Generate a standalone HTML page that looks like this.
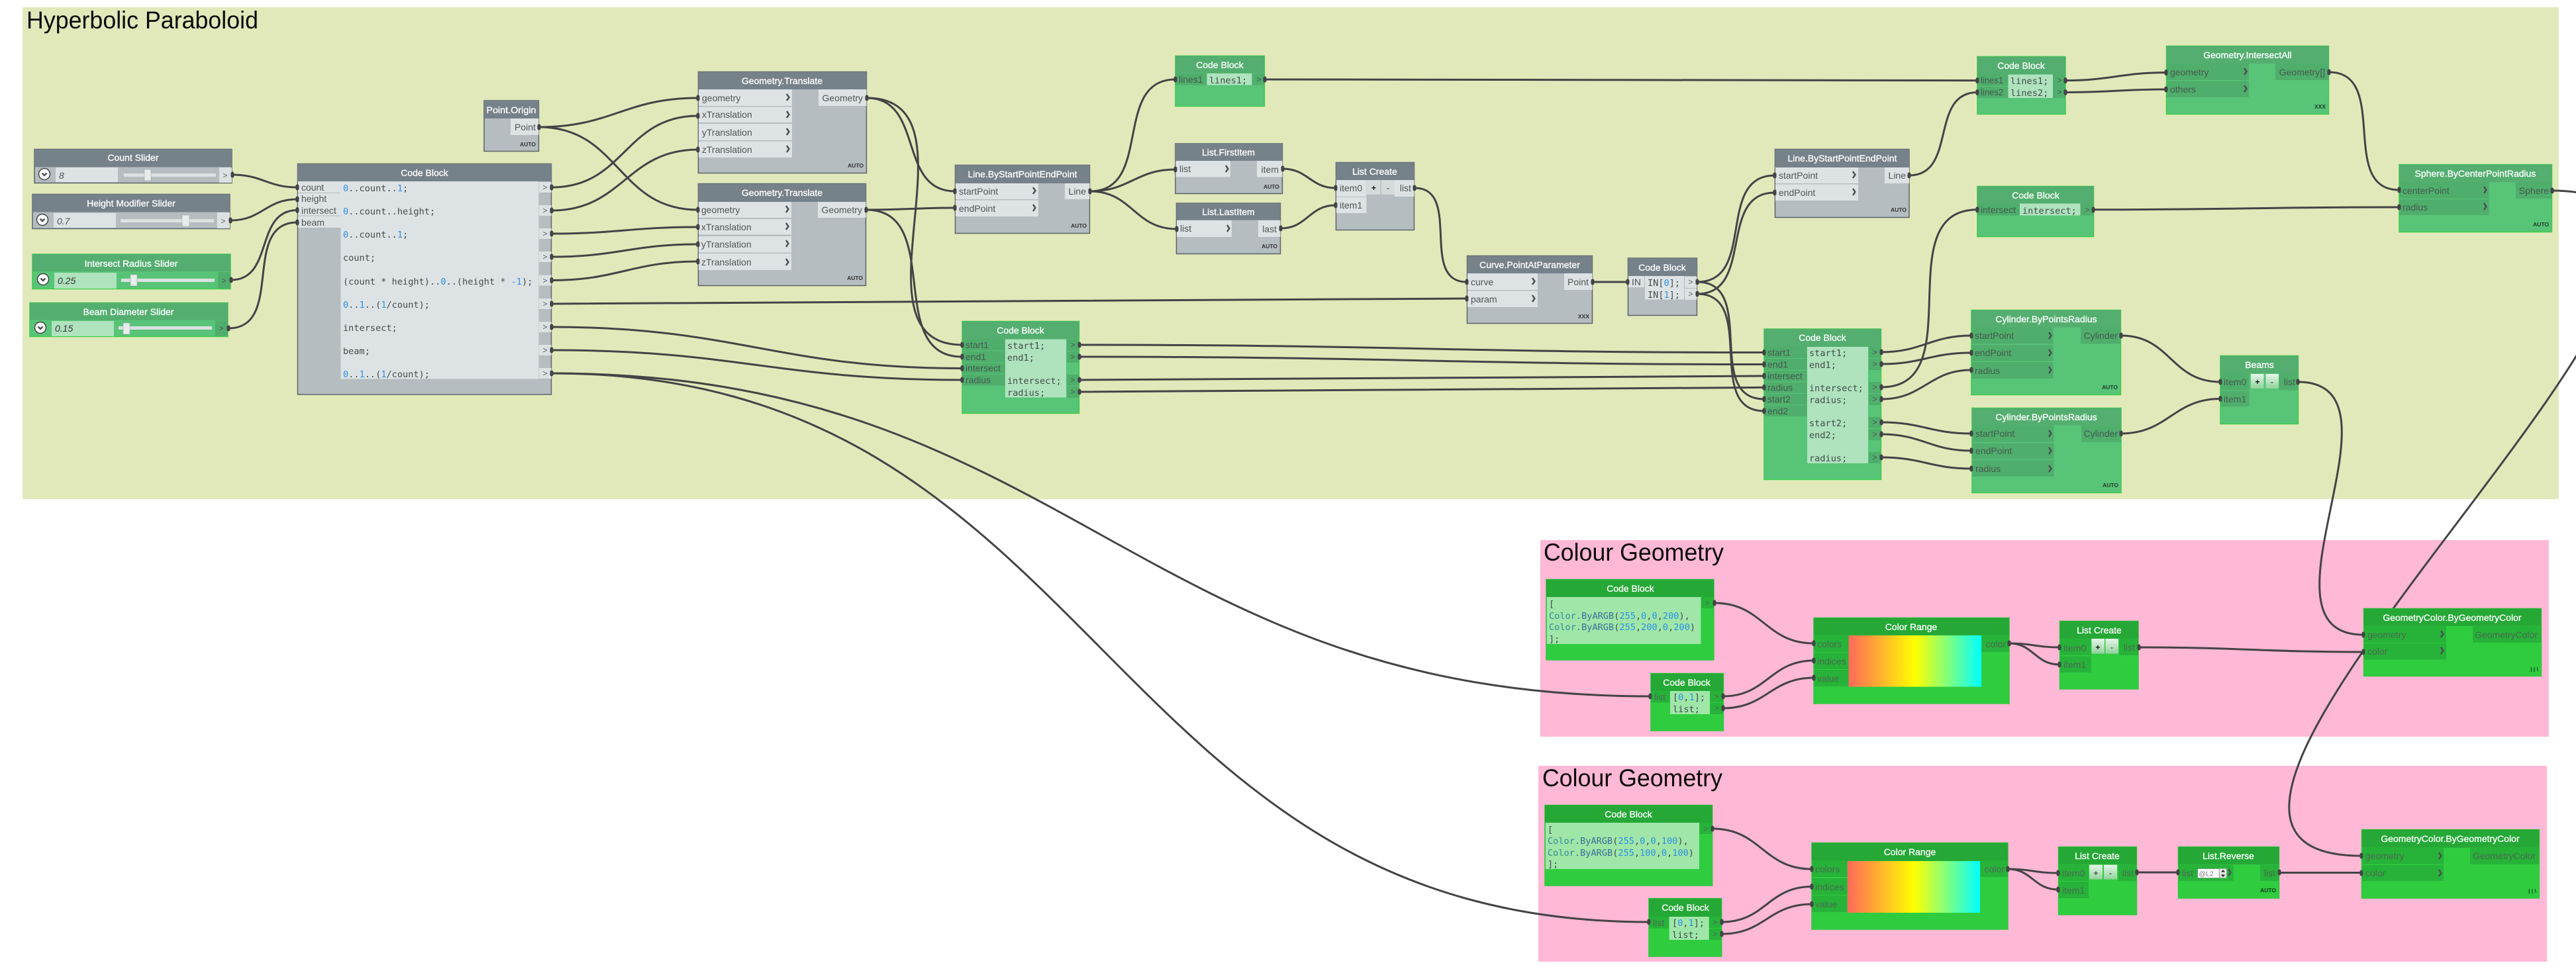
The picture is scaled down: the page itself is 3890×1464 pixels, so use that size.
<!DOCTYPE html>
<html><head><meta charset="utf-8"><style>
html,body{margin:0;padding:0;background:#fff;width:3890px;height:1464px;overflow:hidden}
svg{display:block;font-family:"Liberation Sans",sans-serif}
.t{font-size:37px;fill:#0a0a0a}
.cn{fill:none;stroke:#434446;stroke-width:3}
.pt{fill:none;stroke:#434446;stroke-width:5;stroke-linecap:round}
.c{fill:none;stroke:#4a4f52;stroke-width:2.4}
.hd{font-size:14px;fill:#fff;stroke:#fff;stroke-width:.3;text-anchor:middle}
.l{font-size:14px;fill:#4f5558}
.r{font-size:14px;fill:#4f5558;text-anchor:end}
.m{font-family:"DejaVu Sans Mono",monospace;font-size:13.6px;fill:#444c4c;transform:translateY(1px)}
.o{fill:#2f8fe8}.k{fill:#36899a}.y{fill:#3d6d9a}
.a{font-size:8.5px;font-weight:bold;fill:#333;text-anchor:end}
.s{font-size:12px;fill:#5a6064;text-anchor:middle}
.g .b{fill:#b5bdc0;stroke:#5c6368;stroke-width:1.5}.g .h{fill:#76828a}.g .q{fill:#dce1e2}.g .p{fill:#dde3e4}
.n .b{fill:#58c478;stroke:#3ecb4a;stroke-width:1.5}.n .h{fill:#53ae6f}.n .q{fill:#4fae6c}.n .p{fill:#aee3bd}
.v .b{fill:#2fcc40;stroke:#2fc93f;stroke-width:1.5}.v .h{fill:#25a836}.v .q{fill:#27b239}.v .p{fill:#9fe6a8}
.n .l,.n .r,.n .s{fill:#45594e}.v .l,.v .r,.v .s{fill:#4a6a50}
.n .a{fill:#1f3a2a}.v .a{fill:#123a18}
</style></head><body>
<svg width="3890" height="1464" viewBox="0 0 3890 1464" xmlns="http://www.w3.org/2000/svg">
<defs><linearGradient id="gr" x1="0" x2="1" y1="0" y2="0"><stop offset="0" stop-color="#ff6a5a"/><stop offset=".5" stop-color="#ffff00"/><stop offset="1" stop-color="#00ffff"/></linearGradient>
<linearGradient id="bt" x1="0" x2="0" y1="0" y2="1"><stop offset="0" stop-color="#e8f6ea"/><stop offset="1" stop-color="#8fd39a"/></linearGradient></defs>

<rect x="34" y="11" width="3830" height="743" fill="#e1e9ba"/>
<rect x="2326" y="816" width="1523" height="297" fill="#ffb8d5"/>
<rect x="2323" y="1157" width="1523" height="296" fill="#ffb8d5"/>
<text class="t" x="40" y="43" textLength="350" lengthAdjust="spacingAndGlyphs">Hyperbolic Paraboloid</text>
<text class="t" x="2331" y="847" textLength="272" lengthAdjust="spacingAndGlyphs">Colour Geometry</text>
<text class="t" x="2329" y="1188" textLength="272" lengthAdjust="spacingAndGlyphs">Colour Geometry</text>

<g class="cn">
<path d="M351 264C396 264 404 283 449 283"/><path d="M348 333C396 333 401 301 449 301"/><path d="M349 423C414 423 384 317.5 449 317.5"/><path d="M345 496C431 496 363 336 449 336"/>
<path d="M814 192C924 192 944 148 1054 148"/><path d="M814 192C936 192 932 317 1054 317"/>
<path d="M833 283C944 283 943 175 1054 175"/><path d="M833 318C941 318 946 226 1054 226"/><path d="M833 353C933 353 954 343 1054 343"/><path d="M833 388C933 388 954 369 1054 369"/><path d="M833 423.5C933 423.5 954 395 1054 395"/>
<path d="M833 459C1455 459 1593 451 2215 451"/><path d="M833 494C1113 494 1173 556.5 1453 556.5"/><path d="M833 529C1113 529 1173 574 1453 574"/>
<path d="M833 564C1611 564 1714 1052 2492 1052"/><path d="M833 564C1667 564 1656 1393 2490 1393"/>
<path d="M1309 148C1396 148 1355 289 1442 289"/><path d="M1309 148C1489 148 1273 521 1453 521"/><path d="M1308 317C1368 317 1382 314 1442 314"/><path d="M1308 317C1427 317 1334 539 1453 539"/>
<path d="M1646 289C1742 289 1679 120 1775 120"/><path d="M1646 289C1706 289 1715 256 1775 256"/><path d="M1646 289C1710 289 1713 346 1777 346"/>
<path d="M1910 120C2394 120 2502 121.6 2986 121.6"/><path d="M1937 255C1975 255 1979 284 2017 284"/><path d="M1934 345C1974 345 1977 310 2017 310"/>
<path d="M2136 284C2209 284 2142 426 2215 426"/><path d="M2405 426H2458"/>
<path d="M2563 426C2653 426 2590 265 2680 265"/><path d="M2563 444C2650 444 2593 291 2680 291"/><path d="M2563 426C2655 426 2572 603 2664 603"/><path d="M2563 444C2655 444 2572 621 2664 621"/>
<path d="M1630 521C2095 521 2199 532.5 2664 532.5"/><path d="M1630 539C2095 539 2199 550.5 2664 550.5"/><path d="M1630 574C2095 574 2199 568 2664 568"/><path d="M1630 592C2095 592 2199 585.4 2664 585.4"/>
<path d="M2883 265C2956 265 2913 139.5 2986 139.5"/><path d="M3119 121.6C3187 121.6 3203 109.6 3271 109.6"/><path d="M3119 139.5C3187 139.5 3203 135 3271 135"/>
<path d="M3517 109C3610 109 3530 287 3623 287"/><path d="M2841 585C2978 585 2849 316.8 2986 316.8"/><path d="M3161 316.8C3369 316.8 3415 313 3623 313"/>
<path d="M2841 532C2903 532 2915 507 2977 507"/><path d="M2841 550C2903 550 2915 533 2977 533"/><path d="M2841 603C2905 603 2913 559 2977 559"/><path d="M2841 638C2903 638 2915 655 2977 655"/><path d="M2841 656C2903 656 2915 681 2977 681"/><path d="M2841 691C2903 691 2915 708 2977 708"/>
<path d="M3203 507C3278 507 3278 577 3353 577"/><path d="M3203 655C3274 655 3282 602.5 3353 602.5"/>
<path d="M3470 577C3648 577 3391 959 3569 959"/><path d="M3854 288C4324 288 3096 1293 3566 1293"/>
<path d="M3230 978C3382 978 3417 985 3569 985"/><path d="M3227 1318H3289"/><path d="M3442 1318.5H3566"/>
<path d="M2589 911C2662 911 2666 972 2739 972"/><path d="M2602 1052C2668 1052 2673 998 2739 998"/><path d="M2602 1070C2667 1070 2674 1024 2739 1024"/>
<path d="M3034 972C3068 972 3076 978 3110 978"/><path d="M3034 972C3071 972 3073 1004 3110 1004"/>
<path d="M2586 1252C2659 1252 2663 1313 2736 1313"/><path d="M2600 1393C2666 1393 2670 1339.5 2736 1339.5"/><path d="M2600 1411C2665 1411 2671 1366 2736 1366"/>
<path d="M3032 1313C3066 1313 3074 1319 3108 1319"/><path d="M3032 1313C3069 1313 3071 1344 3108 1344"/>
</g>

<!-- sliders -->
<g class="g"><rect class="b" x="52" y="225.5" width="298" height="51"/><rect class="h" x="52" y="225.5" width="298" height="27"/><text class="hd" x="201" y="243">Count Slider</text>
<rect class="p" x="84" y="253" width="94" height="22"/><rect x="187" y="262" width="139" height="5" fill="#dce1e2"/><rect x="218" y="256" width="10" height="17" fill="#e8ecec" stroke="#999" stroke-width=".5"/><rect class="q" x="331" y="253" width="19" height="23"/>
<circle cx="67" cy="263" r="8.5" fill="#fff" stroke="#444" stroke-width="1.5"/><path class="c" d="M63.500 261.500l3.500 3.500 3.500-3.500"/><text class="l" x="89" y="270" font-style="italic">8</text><text class="s" x="340" y="269">&gt;</text></g>
<g class="g"><rect class="b" x="49" y="293.500" width="298" height="52"/><rect class="h" x="49" y="293.500" width="298" height="27"/><text class="hd" x="198" y="312">Height Modifier Slider</text>
<rect class="p" x="81" y="322" width="94" height="22"/><rect x="182" y="331" width="141" height="5" fill="#dce1e2"/><rect x="275" y="325" width="11" height="17" fill="#e8ecec" stroke="#999" stroke-width=".5"/><rect class="q" x="328" y="321" width="19" height="24"/>
<circle cx="64" cy="332" r="8.500" fill="#fff" stroke="#444" stroke-width="1.5"/><path class="c" d="M60.500 330.500l3.500 3.500 3.500-3.500"/><text class="l" x="86" y="339" font-style="italic">0.7</text><text class="s" x="337" y="338">&gt;</text></g>
<g class="n"><rect class="b" x="49" y="384" width="299" height="52.500"/><rect class="h" x="49" y="384" width="299" height="26"/><text class="hd" x="198" y="403">Intersect Radius Slider</text>
<rect class="p" x="82" y="412" width="94" height="24"/><rect x="183" y="421" width="141" height="5" fill="#dce1e2"/><rect x="197" y="415" width="10" height="17" fill="#e8ecec" stroke="#999" stroke-width=".5"/><rect class="q" x="329" y="411" width="19" height="25"/>
<circle cx="65" cy="422" r="8.500" fill="#fff" stroke="#444" stroke-width="1.500"/><path class="c" d="M61.500 420.500l3.500 3.500 3.500-3.500"/><text class="l" x="87" y="429" font-style="italic" style="fill:#333">0.25</text><text class="s" x="338" y="428">&gt;</text></g>
<g class="n"><rect class="b" x="45" y="457.500" width="299" height="51"/><rect class="h" x="45" y="457.500" width="299" height="26"/><text class="hd" x="194" y="476">Beam Diameter Slider</text>
<rect class="p" x="78" y="485" width="94" height="23"/><rect x="179" y="493" width="141" height="5" fill="#dce1e2"/><rect x="186" y="488" width="10" height="17" fill="#e8ecec" stroke="#999" stroke-width=".5"/><rect class="q" x="325" y="484" width="19" height="24"/>
<circle cx="61" cy="495" r="8.500" fill="#fff" stroke="#444" stroke-width="1.500"/><path class="c" d="M57.500 493.500l3.500 3.500 3.500-3.500"/><text class="l" x="83" y="501" font-style="italic" style="fill:#333">0.15</text><text class="s" x="334" y="500">&gt;</text></g>

<!-- main code block -->
<g class="g"><rect class="b" x="449.500" y="247.500" width="383" height="348.500"/><rect class="h" x="449.500" y="247.500" width="383" height="26.500"/><text class="hd" x="641" y="266">Code Block</text>
<rect class="p" x="450" y="274" width="64.500" height="70"/><path d="M450 291.500h64M450 326h64" stroke="#b5bdc0" fill="none"/>
<rect class="p" x="514.500" y="274" width="299" height="298.500"/>
<text class="l" x="455" y="288">count</text><text class="l" x="455" y="305">height</text><text class="l" x="455" y="323">intersect</text><text class="l" x="455" y="341">beam</text>
<rect class="q" x="814" y="275" width="18.500" height="16"/><rect class="q" x="814" y="310" width="18.500" height="16"/><rect class="q" x="814" y="345" width="18.500" height="16"/><rect class="q" x="814" y="380" width="18.500" height="16"/><rect class="q" x="814" y="415.500" width="18.500" height="16"/><rect class="q" x="814" y="451" width="18.500" height="16"/><rect class="q" x="814" y="486" width="18.500" height="16"/><rect class="q" x="814" y="521" width="18.500" height="16"/><rect class="q" x="814" y="556" width="18.500" height="16"/>
<text class="s" x="823" y="287">&gt;</text><text class="s" x="823" y="322">&gt;</text><text class="s" x="823" y="357">&gt;</text><text class="s" x="823" y="392">&gt;</text><text class="s" x="823" y="428">&gt;</text><text class="s" x="823" y="463">&gt;</text><text class="s" x="823" y="498">&gt;</text><text class="s" x="823" y="533">&gt;</text><text class="s" x="823" y="568">&gt;</text>
<text class="m" x="518" y="288"><tspan class="o">0</tspan>..count..<tspan class="o">1</tspan>;</text>
<text class="m" x="518" y="323"><tspan class="o">0</tspan>..count..height;</text>
<text class="m" x="518" y="358"><tspan class="o">0</tspan>..count..<tspan class="o">1</tspan>;</text>
<text class="m" x="518" y="393">count;</text>
<text class="m" x="518" y="429">(count * height)..<tspan class="o">0</tspan>..(height * <tspan class="o">-1</tspan>);</text>
<text class="m" x="518" y="464"><tspan class="o">0</tspan>..<tspan class="o">1</tspan>..(<tspan class="o">1</tspan>/count);</text>
<text class="m" x="518" y="499">intersect;</text>
<text class="m" x="518" y="534">beam;</text>
<text class="m" x="518" y="569"><tspan class="o">0</tspan>..<tspan class="o">1</tspan>..(<tspan class="o">1</tspan>/count);</text></g>

<!-- Point.Origin -->
<g class="g"><rect class="b" x="731" y="152" width="82.500" height="76.500"/><rect class="h" x="731" y="152" width="82.500" height="27"/><text class="hd" x="772" y="171" textLength="75" lengthAdjust="spacingAndGlyphs">Point.Origin</text>
<rect class="p" x="771" y="179" width="42.500" height="25"/><text class="r" x="809" y="197">Point</text><text class="a" x="809" y="221">AUTO</text></g>

<!-- Geometry.Translate 1 -->
<g class="g"><rect class="b" x="1054.500" y="108.500" width="254" height="153"/><rect class="h" x="1054.500" y="108.500" width="254" height="26.500"/><text class="hd" x="1181" y="127">Geometry.Translate</text>
<rect class="p" x="1055" y="135" width="141" height="25"/><rect class="p" x="1055" y="161.500" width="141" height="23.500"/><rect class="p" x="1055" y="187" width="141" height="25"/><rect class="p" x="1055" y="213.500" width="141" height="24.500"/><rect class="p" x="1236" y="135" width="72.500" height="25"/>
<text class="l" x="1060" y="153">geometry</text><text class="l" x="1060" y="178">xTranslation</text><text class="l" x="1060" y="205">yTranslation</text><text class="l" x="1060" y="231">zTranslation</text><text class="r" x="1303" y="153">Geometry</text>
<path class="c" d="M1188 142l3.500 5-3.500 5M1188 168l3.500 5-3.500 5M1188 194l3.500 5-3.500 5M1188 220l3.500 5-3.500 5"/><text class="a" x="1304" y="253">AUTO</text></g>
<!-- Geometry.Translate 2 -->
<g class="g"><rect class="b" x="1054.500" y="277.500" width="253" height="154"/><rect class="h" x="1054.500" y="277.500" width="253" height="27.500"/><text class="hd" x="1181" y="296">Geometry.Translate</text>
<rect class="p" x="1055" y="305" width="140" height="24"/><rect class="p" x="1055" y="331" width="140" height="23.500"/><rect class="p" x="1055" y="357" width="140" height="24.500"/><rect class="p" x="1055" y="383" width="140" height="25"/><rect class="p" x="1235" y="305" width="72.500" height="24"/>
<text class="l" x="1059" y="322">geometry</text><text class="l" x="1059" y="348">xTranslation</text><text class="l" x="1059" y="374">yTranslation</text><text class="l" x="1059" y="401">zTranslation</text><text class="r" x="1302" y="322">Geometry</text>
<path class="c" d="M1187 311l3.500 5-3.500 5M1187 337l3.500 5-3.500 5M1187 363l3.500 5-3.500 5M1187 391l3.500 5-3.500 5"/><text class="a" x="1303" y="423">AUTO</text></g>

<!-- Line 1 -->
<g class="g"><rect class="b" x="1442.500" y="249.500" width="203" height="103"/><rect class="h" x="1442.500" y="249.500" width="203" height="27.500"/><text class="hd" x="1544" y="268">Line.ByStartPointEndPoint</text>
<rect class="p" x="1443" y="277" width="125" height="24"/><rect class="p" x="1443" y="302.500" width="125" height="24.500"/><rect class="p" x="1608" y="277" width="37.500" height="24"/>
<text class="l" x="1448" y="294">startPoint</text><text class="l" x="1448" y="320">endPoint</text><text class="r" x="1640" y="294">Line</text>
<path class="c" d="M1560 283l3.500 5-3.500 5M1560 309l3.500 5-3.500 5"/><text class="a" x="1641" y="344">AUTO</text></g>

<!-- Green code start1 -->
<g class="n"><rect class="b" x="1453" y="485.500" width="176.500" height="139"/><rect class="h" x="1453" y="485.500" width="176.500" height="27"/><text class="hd" x="1541" y="504">Code Block</text>
<rect class="q" x="1453.500" y="512.500" width="64" height="70"/><path d="M1454 530h63M1454 548h63M1454 565h63" stroke="#58c478"/><rect class="p" x="1518" y="512.500" width="92" height="88"/>
<text class="l" x="1458" y="526">start1</text><text class="l" x="1458" y="544">end1</text><text class="l" x="1458" y="561">intersect</text><text class="l" x="1458" y="579">radius</text>
<rect class="q" x="1611" y="513" width="18" height="17"/><rect class="q" x="1611" y="531" width="18" height="17"/><rect class="q" x="1611" y="566" width="18" height="17"/><rect class="q" x="1611" y="584" width="18" height="17"/>
<text class="s" x="1620" y="525">&gt;</text><text class="s" x="1620" y="543">&gt;</text><text class="s" x="1620" y="578">&gt;</text><text class="s" x="1620" y="596">&gt;</text>
<text class="m" x="1521" y="526">start1;</text><text class="m" x="1521" y="544">end1;</text><text class="m" x="1521" y="579">intersect;</text><text class="m" x="1521" y="597">radius;</text></g>

<!-- lines1 code block -->
<g class="n"><rect class="b" x="1775" y="84.500" width="134.500" height="76"/><rect class="h" x="1775" y="84.500" width="134.500" height="26"/><text class="hd" x="1842" y="103">Code Block</text>
<rect class="q" x="1775.500" y="111" width="134" height="17.500"/><rect class="p" x="1822.500" y="111" width="68" height="17.500"/><text class="l" x="1780" y="125">lines1</text><text class="s" x="1901" y="124">&gt;</text><text class="m" x="1826" y="125">lines1;</text></g>

<!-- List.FirstItem -->
<g class="g"><rect class="b" x="1775" y="217" width="161.500" height="75.500"/><rect class="h" x="1775" y="217" width="161.500" height="26"/><text class="hd" x="1855" y="235">List.FirstItem</text>
<rect class="p" x="1775.500" y="243" width="82.500" height="24.500"/><rect class="p" x="1898" y="243" width="38.500" height="24.500"/><text class="l" x="1781" y="260">list</text><text class="r" x="1931" y="261">item</text><path class="c" d="M1851 250l3.500 5-3.500 5"/><text class="a" x="1932" y="285">AUTO</text></g>
<!-- List.LastItem -->
<g class="g"><rect class="b" x="1776.500" y="307" width="157" height="76.500"/><rect class="h" x="1776.500" y="307" width="157" height="25.500"/><text class="hd" x="1855" y="325">List.LastItem</text>
<rect class="p" x="1777" y="333" width="83" height="25"/><rect class="p" x="1900" y="333" width="33.500" height="25"/><text class="l" x="1782" y="350">list</text><text class="r" x="1928" y="351">last</text><path class="c" d="M1853 340l3.500 5-3.500 5"/><text class="a" x="1929" y="375">AUTO</text></g>
<!-- List Create -->
<g class="g"><rect class="b" x="2017.500" y="245.500" width="118" height="102"/><rect class="h" x="2017.500" y="245.500" width="118" height="26.500"/><text class="hd" x="2076" y="264">List Create</text>
<rect class="p" x="2018" y="272" width="45.500" height="25"/><rect class="p" x="2018" y="298" width="45.500" height="24"/><rect class="p" x="2106" y="272" width="29.500" height="25"/>
<rect x="2064" y="272" width="20.500" height="22" fill="#d5dadb"/><rect x="2086" y="272" width="20" height="22" fill="#d5dadb"/><text class="s" x="2074.500" y="288" style="fill:#111;font-weight:bold">+</text><text class="s" x="2096" y="288" style="fill:#111">-</text>
<text class="l" x="2023" y="289">item0</text><text class="l" x="2023" y="315">item1</text><text class="r" x="2131" y="289">list</text></g>
<!-- Curve.PointAtParameter -->
<g class="g"><rect class="b" x="2215.500" y="386.500" width="189" height="102"/><rect class="h" x="2215.500" y="386.500" width="189" height="26.500"/><text class="hd" x="2310" y="405">Curve.PointAtParameter</text>
<rect class="p" x="2216" y="413" width="106" height="25"/><rect class="p" x="2216" y="439.500" width="106" height="24.500"/><rect class="p" x="2362" y="413" width="42.500" height="25"/><text class="l" x="2221" y="431">curve</text><text class="l" x="2221" y="457">param</text><text class="r" x="2399" y="431">Point</text>
<path class="c" d="M2314 420l3.500 5-3.500 5M2314 446l3.500 5-3.500 5"/><text class="a" x="2400" y="481">XXX</text></g>
<!-- Code Block IN -->
<g class="g"><rect class="b" x="2458.500" y="390" width="104" height="86.500"/><rect class="h" x="2458.500" y="390" width="104" height="27"/><text class="hd" x="2510" y="409">Code Block</text>
<rect class="p" x="2459" y="417" width="24" height="17"/><rect class="p" x="2484" y="417" width="59" height="35.500"/><rect class="q" x="2544" y="418" width="18.500" height="17"/><rect class="q" x="2544" y="436" width="18.500" height="17"/><text class="l" x="2464" y="431">IN</text>
<text class="s" x="2553" y="430">&gt;</text><text class="s" x="2553" y="448">&gt;</text><text class="m" x="2488" y="431">IN[<tspan class="o">0</tspan>];</text><text class="m" x="2488" y="449">IN[<tspan class="o">1</tspan>];</text></g>
<!-- Line 2 -->
<g class="g"><rect class="b" x="2680.500" y="225.500" width="202.500" height="103"/><rect class="h" x="2680.500" y="225.500" width="202.500" height="27.500"/><text class="hd" x="2782" y="244">Line.ByStartPointEndPoint</text>
<rect class="p" x="2681" y="253" width="125" height="24"/><rect class="p" x="2681" y="278.500" width="125" height="24.500"/><rect class="p" x="2846" y="253" width="37" height="24"/><text class="l" x="2686" y="270">startPoint</text><text class="l" x="2686" y="296">endPoint</text><text class="r" x="2878" y="270">Line</text>
<path class="c" d="M2798 259l3.500 5-3.500 5M2798 285l3.500 5-3.500 5"/><text class="a" x="2879" y="320">AUTO</text></g>

<!-- Big green code block -->
<g class="n"><rect class="b" x="2664" y="497" width="176.500" height="227.500"/><rect class="h" x="2664" y="497" width="176.500" height="27"/><text class="hd" x="2752" y="515">Code Block</text>
<rect class="q" x="2664.500" y="524" width="64" height="105"/><path d="M2665 541.500h63M2665 559.500h63M2665 577h63M2665 594.500h63M2665 612h63" stroke="#58c478"/><rect class="p" x="2729" y="524" width="92" height="176"/>
<text class="l" x="2669" y="537.500">start1</text><text class="l" x="2669" y="555.500">end1</text><text class="l" x="2669" y="573">intersect</text><text class="l" x="2669" y="590.500">radius</text><text class="l" x="2669" y="608">start2</text><text class="l" x="2669" y="626">end2</text>
<rect class="q" x="2822" y="524" width="18" height="17"/><rect class="q" x="2822" y="542" width="18" height="17"/><rect class="q" x="2822" y="577" width="18" height="17"/><rect class="q" x="2822" y="595" width="18" height="17"/><rect class="q" x="2822" y="630" width="18" height="17"/><rect class="q" x="2822" y="648" width="18" height="17"/><rect class="q" x="2822" y="683" width="18" height="17"/>
<text class="s" x="2831" y="536">&gt;</text><text class="s" x="2831" y="554">&gt;</text><text class="s" x="2831" y="589">&gt;</text><text class="s" x="2831" y="607">&gt;</text><text class="s" x="2831" y="642">&gt;</text><text class="s" x="2831" y="660">&gt;</text><text class="s" x="2831" y="695">&gt;</text>
<text class="m" x="2732" y="537">start1;</text><text class="m" x="2732" y="555">end1;</text><text class="m" x="2732" y="590">intersect;</text><text class="m" x="2732" y="608">radius;</text><text class="m" x="2732" y="643">start2;</text><text class="m" x="2732" y="661">end2;</text><text class="m" x="2732" y="696">radius;</text></g>

<!-- Code lines -->
<g class="n"><rect class="b" x="2986" y="85.500" width="133" height="87"/><rect class="h" x="2986" y="85.500" width="133" height="27"/><text class="hd" x="3052" y="104">Code Block</text>
<rect class="q" x="2986.500" y="112.500" width="132" height="35.500"/><path d="M2987 130.500h45" stroke="#58c478"/><rect class="p" x="3032.500" y="112.500" width="67.500" height="35.500"/>
<text class="l" x="2991" y="126" textLength="34" lengthAdjust="spacingAndGlyphs">lines1</text><text class="l" x="2991" y="144" textLength="34" lengthAdjust="spacingAndGlyphs">lines2</text><text class="s" x="3110" y="125">&gt;</text><text class="s" x="3110" y="143">&gt;</text><text class="m" x="3036" y="126">lines1;</text><text class="m" x="3036" y="144">lines2;</text></g>
<!-- Code intersect -->
<g class="n"><rect class="b" x="2986" y="281.500" width="175.500" height="76"/><rect class="h" x="2986" y="281.500" width="175.500" height="26"/><text class="hd" x="3074" y="300">Code Block</text>
<rect class="q" x="2986.500" y="307.500" width="174.500" height="18"/><rect class="p" x="3050" y="307.500" width="91.500" height="18"/><text class="l" x="2991" y="322" textLength="53" lengthAdjust="spacingAndGlyphs">intersect</text><text class="s" x="3152" y="321">&gt;</text><text class="m" x="3054" y="322">intersect;</text></g>
<!-- IntersectAll -->
<g class="n"><rect class="b" x="3271.500" y="69.500" width="245" height="103"/><rect class="h" x="3271.500" y="69.500" width="245" height="26.500"/><text class="hd" x="3394" y="88">Geometry.IntersectAll</text>
<rect class="q" x="3272" y="96" width="124" height="25"/><rect class="q" x="3272" y="122.500" width="124" height="24.500"/><rect class="q" x="3436" y="96" width="80.500" height="25"/><text class="l" x="3277" y="114">geometry</text><text class="l" x="3277" y="140">others</text><text class="r" x="3511" y="114">Geometry[]</text>
<path class="c" d="M3389 103l3.500 5-3.500 5M3389 129l3.500 5-3.500 5"/><text class="a" x="3512" y="164">XXX</text></g>
<!-- Sphere -->
<g class="n"><rect class="b" x="3623" y="248.500" width="230.500" height="102"/><rect class="h" x="3623" y="248.500" width="230.500" height="26.500"/><text class="hd" x="3738" y="267">Sphere.ByCenterPointRadius</text>
<rect class="q" x="3623.500" y="275" width="135" height="25"/><rect class="q" x="3623.500" y="301" width="135" height="24"/><rect class="q" x="3799" y="275" width="54.500" height="25"/><text class="l" x="3628" y="293">centerPoint</text><text class="l" x="3628" y="318">radius</text><text class="r" x="3849" y="293">Sphere</text>
<path class="c" d="M3751 282l3.500 5-3.500 5M3751 307l3.500 5-3.500 5"/><text class="a" x="3849" y="342">AUTO</text></g>
<!-- Cyl 1 -->
<g class="n"><rect class="b" x="2977" y="468.500" width="225.500" height="128"/><rect class="h" x="2977" y="468.500" width="225.500" height="26"/><text class="hd" x="3090" y="487">Cylinder.ByPointsRadius</text>
<rect class="q" x="2977.500" y="494.500" width="123" height="25"/><rect class="q" x="2977.500" y="521" width="123" height="24.500"/><rect class="q" x="2977.500" y="547" width="123" height="25"/><rect class="q" x="3142" y="494.500" width="60.500" height="25"/>
<text class="l" x="2982" y="512">startPoint</text><text class="l" x="2982" y="538">endPoint</text><text class="l" x="2982" y="565">radius</text><text class="r" x="3198" y="512">Cylinder</text>
<path class="c" d="M3094 502l3.500 5-3.500 5M3094 528l3.500 5-3.500 5M3094 554l3.500 5-3.500 5"/><text class="a" x="3198" y="588">AUTO</text></g>
<!-- Cyl 2 -->
<g class="n"><rect class="b" x="2978" y="616.500" width="225" height="128"/><rect class="h" x="2978" y="616.500" width="225" height="26"/><text class="hd" x="3090" y="635">Cylinder.ByPointsRadius</text>
<rect class="q" x="2978.500" y="642.700" width="123" height="25"/><rect class="q" x="2978.500" y="669.400" width="123" height="24.500"/><rect class="q" x="2978.500" y="695" width="123" height="25"/><rect class="q" x="3143" y="642.700" width="60" height="25"/>
<text class="l" x="2983" y="660">startPoint</text><text class="l" x="2983" y="686">endPoint</text><text class="l" x="2983" y="713">radius</text><text class="r" x="3198" y="660">Cylinder</text>
<path class="c" d="M3094 650l3.500 5-3.500 5M3094 676l3.500 5-3.500 5M3094 703l3.500 5-3.500 5"/><text class="a" x="3199" y="736">AUTO</text></g>
<!-- Beams -->
<g class="n"><rect class="b" x="3353" y="537.500" width="117.500" height="103"/><rect class="h" x="3353" y="537.500" width="117.500" height="26.500"/><text class="hd" x="3412" y="556">Beams</text>
<rect class="q" x="3353.500" y="564" width="43" height="25.500"/><rect class="q" x="3353.500" y="590.500" width="43" height="24"/><rect class="q" x="3441.500" y="564" width="29" height="25.500"/>
<rect x="3399" y="565" width="19.500" height="22" fill="url(#bt)"/><rect x="3421.500" y="565" width="19.500" height="22" fill="url(#bt)"/><text class="s" x="3409" y="581" style="fill:#111;font-weight:bold">+</text><text class="s" x="3431" y="581" style="fill:#111">-</text>
<text class="l" x="3358" y="582">item0</text><text class="l" x="3358" y="608">item1</text><text class="r" x="3466" y="582">list</text></g>

<!-- Pink group 1 -->
<g class="v"><rect class="b" x="2335" y="875.500" width="253" height="121.500"/><rect class="h" x="2335" y="875.500" width="253" height="26.500"/><text class="hd" x="2462" y="894">Code Block</text>
<rect class="p" x="2336" y="902" width="232.500" height="71"/><rect class="q" x="2569" y="902" width="19" height="17"/><text class="s" x="2578" y="915">&gt;</text>
<text class="m" x="2339" y="916">[</text><text class="m" x="2339" y="934"><tspan class="k">Color</tspan><tspan class="y">.ByARGB</tspan>(<tspan class="o">255</tspan>,<tspan class="o">0</tspan>,<tspan class="o">0</tspan>,<tspan class="o">200</tspan>),</text><text class="m" x="2339" y="951"><tspan class="k">Color</tspan><tspan class="y">.ByARGB</tspan>(<tspan class="o">255</tspan>,<tspan class="o">200</tspan>,<tspan class="o">0</tspan>,<tspan class="o">200</tspan>)</text><text class="m" x="2339" y="969">];</text></g>
<g class="v"><rect class="b" x="2493" y="1017.500" width="109.500" height="86.500"/><rect class="h" x="2493" y="1017.500" width="109.500" height="26.500"/><text class="hd" x="2547" y="1036">Code Block</text>
<rect class="q" x="2493.500" y="1044" width="28" height="17.500"/><rect class="p" x="2522" y="1044" width="60" height="35"/><rect class="q" x="2582.500" y="1044" width="19.500" height="17"/><rect class="q" x="2582.500" y="1062" width="19.500" height="17"/>
<text class="l" x="2498" y="1058">list</text><text class="s" x="2592" y="1056">&gt;</text><text class="s" x="2592" y="1074">&gt;</text><text class="m" x="2526" y="1057">[<tspan class="o">0</tspan>,<tspan class="o">1</tspan>];</text><text class="m" x="2526" y="1075">list;</text></g>
<g class="v"><rect class="b" x="2739" y="933.500" width="295" height="129.500"/><rect class="h" x="2739" y="933.500" width="295" height="26.200"/><text class="hd" x="2886" y="952">Color Range</text>
<rect class="q" x="2739.500" y="960" width="52" height="25"/><rect class="q" x="2739.500" y="986" width="52" height="25"/><rect class="q" x="2739.500" y="1012" width="52" height="25"/><rect class="q" x="2992.500" y="960" width="41.500" height="25"/>
<rect x="2791.700" y="960" width="200.300" height="77.600" fill="url(#gr)"/><text class="l" x="2744" y="978">colors</text><text class="l" x="2744" y="1004">indices</text><text class="l" x="2744" y="1030">value</text><text class="r" x="3029" y="978">color</text></g>
<g class="v"><rect class="b" x="3110.500" y="938.500" width="118.500" height="102.500"/><rect class="h" x="3110.500" y="938.500" width="118.500" height="26.300"/><text class="hd" x="3170" y="957">List Create</text>
<rect class="q" x="3111" y="965" width="46.800" height="25"/><rect class="q" x="3111" y="991.400" width="46.800" height="24.600"/><rect class="q" x="3200" y="965" width="29" height="25"/>
<rect x="3158.400" y="965" width="19.600" height="22.600" fill="url(#bt)"/><rect x="3179.500" y="965" width="19.500" height="22.600" fill="url(#bt)"/><text class="s" x="3168" y="982" style="fill:#111;font-weight:bold">+</text><text class="s" x="3189" y="982" style="fill:#111">-</text>
<text class="l" x="3116" y="984">item0</text><text class="l" x="3116" y="1009">item1</text><text class="r" x="3224" y="983">list</text></g>
<g class="v"><rect class="b" x="3569.500" y="919.500" width="268" height="102"/><rect class="h" x="3569.500" y="919.500" width="268" height="26.200"/><text class="hd" x="3703" y="938">GeometryColor.ByGeometryColor</text>
<rect class="q" x="3570" y="946" width="124" height="25"/><rect class="q" x="3570" y="972" width="124" height="24.500"/><rect class="q" x="3734" y="946" width="103.500" height="25"/><text class="l" x="3575" y="964">geometry</text><text class="l" x="3575" y="989">color</text><text class="r" x="3832" y="964">GeometryColor</text>
<path class="c" d="M3686 953l3.500 5-3.500 5M3686 978l3.500 5-3.500 5"/><text class="a" x="3833" y="1014">| | \</text></g>

<!-- Pink group 2 -->
<g class="v"><rect class="b" x="2333" y="1216.500" width="252.700" height="121.500"/><rect class="h" x="2333" y="1216.500" width="252.700" height="26.500"/><text class="hd" x="2459" y="1235">Code Block</text>
<rect class="p" x="2334" y="1243" width="232" height="70"/><rect class="q" x="2566.500" y="1243" width="19" height="17"/><text class="s" x="2576" y="1256">&gt;</text>
<text class="m" x="2337" y="1257">[</text><text class="m" x="2337" y="1274"><tspan class="k">Color</tspan><tspan class="y">.ByARGB</tspan>(<tspan class="o">255</tspan>,<tspan class="o">0</tspan>,<tspan class="o">0</tspan>,<tspan class="o">100</tspan>),</text><text class="m" x="2337" y="1292"><tspan class="k">Color</tspan><tspan class="y">.ByARGB</tspan>(<tspan class="o">255</tspan>,<tspan class="o">100</tspan>,<tspan class="o">0</tspan>,<tspan class="o">100</tspan>)</text><text class="m" x="2337" y="1309">];</text></g>
<g class="v"><rect class="b" x="2490" y="1357.500" width="109.700" height="87.500"/><rect class="h" x="2490" y="1357.500" width="109.700" height="27.500"/><text class="hd" x="2545" y="1376">Code Block</text>
<rect class="q" x="2490.500" y="1385" width="29.500" height="17.500"/><rect class="p" x="2520.700" y="1385" width="60" height="35"/><rect class="q" x="2581" y="1385" width="18.700" height="17"/><rect class="q" x="2581" y="1403" width="18.700" height="17"/>
<text class="l" x="2496" y="1399">list</text><text class="s" x="2590" y="1397">&gt;</text><text class="s" x="2590" y="1415">&gt;</text><text class="m" x="2525" y="1398">[<tspan class="o">0</tspan>,<tspan class="o">1</tspan>];</text><text class="m" x="2525" y="1416">list;</text></g>
<g class="v"><rect class="b" x="2736" y="1273.500" width="296" height="130.500"/><rect class="h" x="2736" y="1273.500" width="296" height="27.100"/><text class="hd" x="2884" y="1292">Color Range</text>
<rect class="q" x="2736.500" y="1301" width="53" height="24"/><rect class="q" x="2736.500" y="1327" width="53" height="25"/><rect class="q" x="2736.500" y="1353" width="53" height="25"/><rect class="q" x="2990.500" y="1301" width="41.500" height="24"/>
<rect x="2789.800" y="1301" width="200.200" height="78" fill="url(#gr)"/><text class="l" x="2741" y="1318">colors</text><text class="l" x="2741" y="1345">indices</text><text class="l" x="2741" y="1371">value</text><text class="r" x="3027" y="1318">color</text></g>
<g class="v"><rect class="b" x="3108.500" y="1279.500" width="118" height="102.500"/><rect class="h" x="3108.500" y="1279.500" width="118" height="26.200"/><text class="hd" x="3167" y="1298">List Create</text>
<rect class="q" x="3109" y="1306" width="45" height="25"/><rect class="q" x="3109" y="1332" width="45" height="25"/><rect class="q" x="3199" y="1306" width="27.500" height="25"/>
<rect x="3155" y="1306.600" width="20" height="22" fill="url(#bt)"/><rect x="3177" y="1306.600" width="20" height="22" fill="url(#bt)"/><text class="s" x="3165" y="1323" style="fill:#111">+</text><text class="s" x="3187" y="1323" style="fill:#111">-</text>
<text class="l" x="3114" y="1324">item0</text><text class="l" x="3114" y="1350">item1</text><text class="r" x="3222" y="1324">list</text></g>
<g class="v"><rect class="b" x="3289.500" y="1279.500" width="152" height="77.500"/><rect class="h" x="3289.500" y="1279.500" width="152" height="26.500"/><text class="hd" x="3365" y="1298">List.Reverse</text>
<rect class="q" x="3290" y="1306.500" width="82.500" height="24.500"/><rect class="q" x="3413" y="1306.500" width="28.500" height="24.500"/><text class="l" x="3295" y="1324">list</text><text class="r" x="3436" y="1324">list</text>
<rect x="3318.600" y="1312.500" width="32.400" height="14" fill="#fff" stroke="#777" stroke-width=".6"/><text x="3320.500" y="1323.500" font-size="10.500" fill="#777">@L2</text>
<rect x="3351.400" y="1312.500" width="11" height="7" fill="#e8e8e8"/><rect x="3351.400" y="1319.500" width="11" height="7" fill="#d8d8d8"/><path d="M3357 1314l-3 3.500h6zM3357 1325l-3-3.500h6z" fill="#222"/>
<path class="c" d="M3365 1313l3.500 5-3.500 5"/><text class="a" x="3437" y="1348">AUTO</text></g>
<g class="v"><rect class="b" x="3566.500" y="1253.500" width="268" height="103.500"/><rect class="h" x="3566.500" y="1253.500" width="268" height="27.200"/><text class="hd" x="3700" y="1272">GeometryColor.ByGeometryColor</text>
<rect class="q" x="3567" y="1281" width="123" height="24.700"/><rect class="q" x="3567" y="1307" width="123" height="24"/><rect class="q" x="3730" y="1281" width="104.500" height="24.700"/><text class="l" x="3572" y="1298">geometry</text><text class="l" x="3572" y="1324">color</text><text class="r" x="3829" y="1298">GeometryColor</text>
<path class="c" d="M3683 1288l3.500 5-3.500 5M3683 1314l3.500 5-3.500 5"/><text class="a" x="3830" y="1349">| | \</text></g>

<path class="pt" d="M351 262v4M348 331v4M349 421v4M345 494v4M814 190v4M833 281v4M833 316v4M833 351v4M833 386v4M833 421.500v4M833 457v4M833 492v4M833 527v4M833 562v4M1309 146v4M1308 315v4M1646 287v4M1910 118v4M1937 253v4M1934 343v4M2136 282v4M2405 424v4M2563 424v4M2563 442v4M1630 519v4M1630 537v4M1630 572v4M1630 590v4M2883 263v4M3119 119.600v4M3119 137.500v4M3517 107v4M2841 530v4M2841 548v4M2841 583v4M2841 601v4M2841 636v4M2841 654v4M2841 689v4M3161 315v4M3203 505v4M3203 653v4M3470 575v4M3854 286v4M3230 976v4M3227 1316v4M3442 1316v4M2589 909v4M2602 1050v4M2602 1068v4M3034 970v4M2586 1250v4M2600 1391v4M2600 1409v4M3032 1311v4M449 281v4M449 299v4M449 315.500v4M449 334v4M1054 146v4M1054 173v4M1054 224v4M1054 315v4M1054 341v4M1054 367v4M1054 393v4M1442 287v4M1442 312v4M1453 519v4M1453 537v4M1453 554.500v4M1453 572v4M1775 118v4M1775 254v4M1777 344v4M2017 282v4M2017 308v4M2215 424v4M2215 449v4M2458 424v4M2680 263v4M2680 289v4M2664 530.500v4M2664 548.500v4M2664 566v4M2664 583.400v4M2664 601v4M2664 619v4M2986 119.600v4M2986 137.500v4M2986 314.800v4M3271 107.600v4M3271 133v4M3623 285v4M3623 311v4M2977 505v4M2977 531v4M2977 557v4M2977 653v4M2977 679v4M2977 706v4M3353 575v4M3353 600.500v4M3569 957v4M3569 983v4M3566 1291v4M3566 1317v4M3289 1316v4M2492 1050v4M2490 1391v4M2739 970v4M2739 996v4M2739 1022v4M2736 1311v4M2736 1337.500v4M2736 1364v4M3110 976v4M3110 1002v4M3108 1317v4M3108 1342v4"/>
</svg>
</body></html>
